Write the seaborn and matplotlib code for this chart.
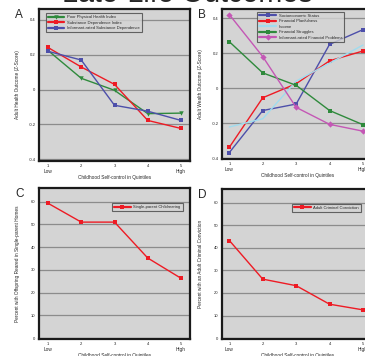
import pandas as pd
import seaborn as sns
import matplotlib.pyplot as plt
import matplotlib.transforms as mtransforms

quintiles = [1, 2, 3, 4, 5]

# Panel A - health (z-scores)
poor_health = [0.225, 0.065, -0.004, -0.138, -0.135]
substance_dep = [0.242, 0.13, 0.03, -0.177, -0.223]
informant_substance = [0.22, 0.17, -0.09, -0.124, -0.177]

# Panel B - wealth (z-scores)
ses = [-0.367, -0.127, -0.09, 0.251, 0.335]
planfulness = [-0.337, -0.054, 0.026, 0.157, 0.213]
income = [-0.221, -0.174, 0.041, 0.144, 0.247]
struggles = [0.266, 0.088, 0.017, -0.127, -0.208]
informant_fin = [0.421, 0.181, -0.109, -0.206, -0.245]

# Panels C and D - percentages
single_parent = [59.3, 51.0, 51.0, 35.2, 26.3]
conviction = [43.2, 26.1, 23.2, 15.0, 12.5]

panel_a = {"Poor Physical Health Index": poor_health,
           "Substance Dependence Index": substance_dep,
           "Informant-rated Substance Dependence": informant_substance}
panel_b = {"Socioeconomic Status": ses,
           "Financial Planfulness": planfulness,
           "Income": income,
           "Financial Struggles": struggles,
           "Informant-rated Financial Problems": informant_fin}
panel_c = {"Single-parent Childrearing": single_parent}
panel_d = {"Adult Criminal Conviction": conviction}

colors = {"Poor Physical Health Index": "#2f8a3c",
          "Substance Dependence Index": "#ee1b24",
          "Informant-rated Substance Dependence": "#4d4faa",
          "Socioeconomic Status": "#4d4faa",
          "Financial Planfulness": "#ee1b24",
          "Income": "#9fdcef",
          "Financial Struggles": "#2f8a3c",
          "Informant-rated Financial Problems": "#c457b5",
          "Single-parent Childrearing": "#ee1b24",
          "Adult Criminal Conviction": "#ee1b24"}
markers = {"Poor Physical Health Index": "v",
           "Substance Dependence Index": "s",
           "Informant-rated Substance Dependence": "s",
           "Socioeconomic Status": "s",
           "Financial Planfulness": "s",
           "Income": "",
           "Financial Struggles": "s",
           "Informant-rated Financial Problems": "D",
           "Single-parent Childrearing": "s",
           "Adult Criminal Conviction": "s"}


def to_long(series):
    rows = []
    for name, vals in series.items():
        for q, v in zip(quintiles, vals):
            rows.append({"Quintile": q, "Value": v, "Series": name})
    return pd.DataFrame(rows)


sns.set_theme(style="white")
plt.rcParams['font.family'] = ['Liberation Sans', 'DejaVu Sans']

fig = plt.figure(figsize=(3.65, 3.56), dpi=100)
fig.patch.set_facecolor("white")

W, H = 365, 356


def make_ax(x0, y0, w, h):
    return fig.add_axes([x0 / W, 1 - (y0 + h) / H, w / W, h / H])


panels = [
    (make_ax(39, 9, 151, 152), panel_a, "A", "Adult Health Outcome (Z-Score)",
     (-0.41, 0.463), [-0.4, -0.2, 0, 0.2, 0.4], ["-0.4", "-0.2", "0", "0.2", "0.4"],
     (0.73, 5.27), ("upper left", (0.03, 0.985))),
    (make_ax(222, 9, 151, 150), panel_b, "B", "Adult Wealth Outcome (Z-Score)",
     (-0.404, 0.453), [-0.4, -0.2, 0, 0.2, 0.4], ["-0.4", "-0.2", "0", "0.2", "0.4"],
     (0.78, 5.3), ("upper left", (0.22, 0.995))),
    (make_ax(39, 188, 151, 151), panel_c, "C",
     "Percent with Offspring Reared in Single-parent Homes",
     (-0.4, 66), [0, 10, 20, 30, 40, 50, 60], ["0", "10", "20", "30", "40", "50", "60"],
     (0.73, 5.27), ("upper right", (0.965, 0.915))),
    (make_ax(222, 189, 151, 150), panel_d, "D",
     "Percent with an Adult Criminal Conviction",
     (-0.4, 66), [0, 10, 20, 30, 40, 50, 60], ["0", "10", "20", "30", "40", "50", "60"],
     (0.78, 5.3), ("upper left", (0.45, 0.915))),
]

for ax, series, letter, ylabel, ylim, yticks, yticklabels, xlim, leg in panels:
    df = to_long(series)
    names = list(series.keys())
    sns.lineplot(data=df, x="Quintile", y="Value", hue="Series", style="Series",
                 hue_order=names, style_order=names,
                 palette={n: colors[n] for n in names},
                 markers={n: (markers[n] if markers[n] else "o") for n in names},
                 dashes=False, linewidth=1.0, markersize=3.2,
                 markeredgewidth=0, ax=ax)
    # Income line has no visible markers
    for line in ax.lines:
        if line.get_color() == "#9fdcef":
            line.set_marker("")

    ax.set_facecolor("#d4d4d4")
    ax.set_xlim(*xlim)
    ax.set_ylim(*ylim)
    ax.set_yticks(yticks)
    ax.set_yticklabels(yticklabels)
    ax.set_xticks(quintiles)
    ax.set_xticklabels([str(q) for q in quintiles])
    ax.yaxis.grid(True, color="#8c8c8c", linewidth=0.9)
    ax.set_axisbelow(True)
    for sp in ax.spines.values():
        sp.set_color("#1a1a1a")
        sp.set_linewidth(1.6)
    ax.tick_params(axis="both", labelsize=3, length=1.5, width=0.6, pad=1,
                   colors="#222222", direction="out")
    ax.set_xlabel("Childhood Self-control in Quintiles", fontsize=3.4, va="top")
    ax.xaxis.set_label_coords(0.5, -0.095)
    ax.set_ylabel(ylabel, fontsize=3.4)
    ax.yaxis.set_label_coords(-0.127, 0.5)

    trans = mtransforms.blended_transform_factory(ax.transData, ax.transAxes)
    ax.text(1, -0.072, "Low", transform=trans, ha="center", va="center", fontsize=3.4)
    ax.text(5, -0.072, "High", transform=trans, ha="center", va="center", fontsize=3.4)

    ax.text(-0.13, 1.0, letter, transform=ax.transAxes, fontsize=8.5,
            ha="center", va="top")

    loc, anchor = leg
    lg = ax.legend(loc=loc, bbox_to_anchor=anchor, fontsize=3, frameon=True,
                   handlelength=4.0, borderpad=0.5, labelspacing=0.35,
                   handletextpad=0.6, fancybox=False, title=None)
    lg.get_frame().set_facecolor("#d4d4d4")
    lg.get_frame().set_edgecolor("#444444")
    lg.get_frame().set_linewidth(0.8)
    for h in lg.legend_handles:
        h.set_linewidth(1.6)

fig.text(0.514, 1 - 2.0 / H, "Late-Life Outcomes", ha="center", va="baseline",
         fontsize=20.7)

fig.savefig("out.png", dpi=100)
